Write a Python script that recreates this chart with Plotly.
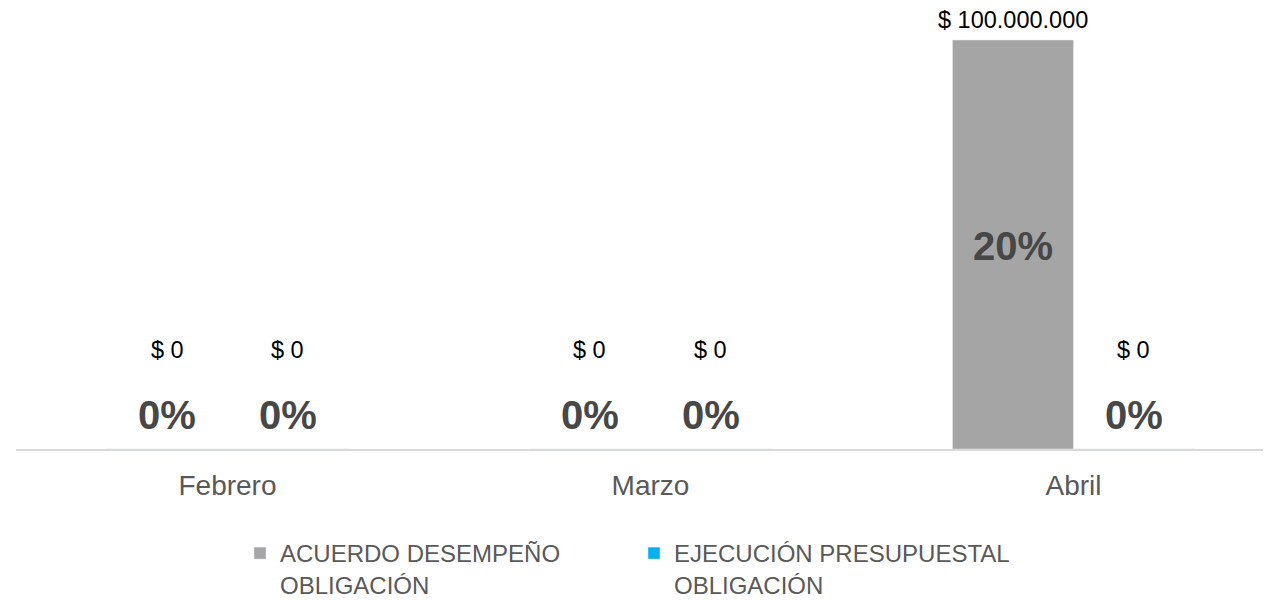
import plotly.graph_objects as go

months = ["Febrero", "Marzo", "Abril"]
acuerdo_vals = [0, 0, 100000000]
ejecucion_vals = [0, 0, 0]
acuerdo_pct = ["0%", "0%", "20%"]
ejecucion_pct = ["0%", "0%", "0%"]
series_names = ["ACUERDO DESEMPEÑO<br>OBLIGACIÓN", "EJECUCIÓN PRESUPUESTAL<br>OBLIGACIÓN"]
colors = ["#A5A5A5", "#00B0F0"]

def money(v):
    return "$ " + f"{v:,.0f}".replace(",", ".")

BARGAP = 0.428
half = (1 - BARGAP) / 4.0
FONT = "Liberation Sans, Arial, sans-serif"

# page body has an 8px default margin; figure sized to fit the viewport
W, H = 1263, 592

fig = go.Figure()
for vals, name, col in zip([acuerdo_vals, ejecucion_vals], series_names, colors):
    fig.add_trace(go.Bar(x=months, y=vals, name=name, marker_color=col,
                         hoverinfo="skip"))

annotations = []
for si, (vals, pcts) in enumerate([(acuerdo_vals, acuerdo_pct), (ejecucion_vals, ejecucion_pct)]):
    off = -half if si == 0 else half
    for i, (v, p) in enumerate(zip(vals, pcts)):
        xpos = i + off
        annotations.append(dict(x=xpos, y=v, xref="x", yref="y", text=money(v),
                                showarrow=False, yshift=(20 if v > 0 else 99),
                                font=dict(family=FONT, size=23.5, color="#000000")))
        annotations.append(dict(x=xpos, y=v / 2, xref="x", yref="y", text="<b>" + p + "</b>",
                                showarrow=False, yshift=(-2 if v > 0 else 34),
                                font=dict(family=FONT, size=40, color="#474747")))

fig.update_layout(
    width=W, height=H,
    margin=dict(l=8, r=0, t=2, b=151, autoexpand=False),
    paper_bgcolor="white", plot_bgcolor="white",
    barmode="group", bargap=BARGAP, bargroupgap=0,
    annotations=annotations,
    xaxis=dict(range=[-0.5, 2.467], showgrid=False, showline=True, linecolor="#D9D9D9",
               linewidth=2, ticks="", tickfont=dict(family=FONT, size=28, color="#595959"),
               ticklabelstandoff=10),
    yaxis=dict(range=[0, 1.0733e8], visible=False),
    legend=dict(orientation="h", xref="container", yref="container",
                x=232 / W, xanchor="left", y=1 - 523 / H, yanchor="top",
                font=dict(family=FONT, size=24, color="#595959"), valign="top",
                itemwidth=30, tracegroupgap=0, entrywidth=349, entrywidthmode="pixels"),
    showlegend=True,
)

fig.write_html("out.html")
